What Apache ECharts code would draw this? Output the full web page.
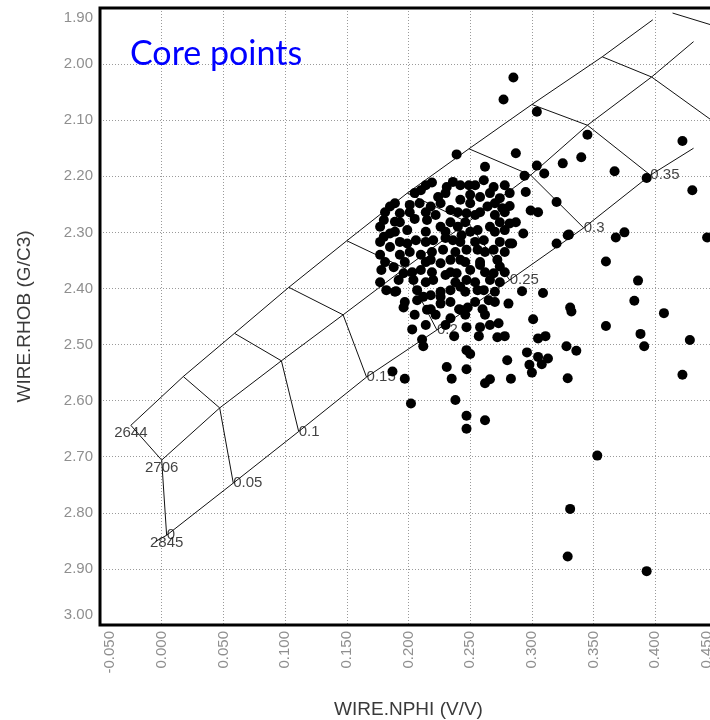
<!DOCTYPE html>
<html>
<head>
<meta charset="utf-8">
<script src="https://cdn.jsdelivr.net/npm/echarts@6/dist/echarts.min.js"></script>
<style>
html, body { margin: 0; padding: 0; background: #ffffff; }
#chart { width: 710px; height: 720px; }
</style>
</head>
<body>
<div id="chart"></div>
<script>
// Axis ranges (tick labels are generated from these)
const nphiTicks = [-0.05, 0, 0.05, 0.10, 0.15, 0.20, 0.25, 0.30, 0.35, 0.40, 0.45];
const rhobTicks = [1.90, 2.00, 2.10, 2.20, 2.30, 2.40, 2.50, 2.60, 2.70, 2.80, 2.90, 3.00];

// Lithology overlay: nodes at each porosity step [NPHI, RHOB]
const porosityLabels = ['0', '0.05', '0.1', '0.15', '0.2', '0.25', '0.3', '0.35', '0.4', '0.45'];
const sandstoneNodes = [[-0.025, 2.644], [0.0175, 2.557], [0.059, 2.480], [0.103, 2.398], [0.150, 2.315],
  [0.199, 2.230], [0.249, 2.151], [0.300, 2.072], [0.357, 1.987], [0.414, 1.909]];
const limestoneNodes = [[0.000, 2.706], [0.047, 2.613], [0.097, 2.529], [0.147, 2.447], [0.197, 2.364],
  [0.248, 2.282], [0.299, 2.198], [0.345, 2.109], [0.397, 2.023], [0.457, 1.938]];
const dolomiteNodes = [[0.004, 2.840], [0.058, 2.747], [0.111, 2.655], [0.166, 2.558], [0.223, 2.474],
  [0.282, 2.385], [0.342, 2.292], [0.396, 2.198], [0.450, 2.107], [0.510, 2.015]];
const sandstoneEnd = [0.398, 1.921];
const limestoneEnd = [0.431, 1.960];
const dolomiteStart = [-0.005, 2.851];
const dolomiteEnd = [0.431, 2.150];
const matrixLabels = ['2644', '2706', '2845'];

// Core points
const coreNphi = [
  0.285, 0.277, 0.304, 0.239, 0.287, 0.345, 0.340, 0.325, 0.262, 0.422,
  0.367, 0.393, 0.430, 0.304, 0.310, 0.294, 0.219, 0.295, 0.320, 0.299,
  0.305, 0.329, 0.368, 0.375, 0.442, 0.360, 0.386, 0.383, 0.407, 0.360,
  0.388, 0.391, 0.428, 0.422, 0.353, 0.331, 0.332, 0.309, 0.301, 0.305,
  0.311, 0.328, 0.336, 0.329, 0.305, 0.313, 0.308, 0.296, 0.298, 0.300,
  0.280, 0.283, 0.266, 0.262, 0.247, 0.231, 0.235, 0.238, 0.247, 0.247,
  0.262, 0.202, 0.187, 0.197, 0.203, 0.211, 0.212, 0.247, 0.250, 0.237,
  0.247, 0.258, 0.257, 0.272, 0.278, 0.273, 0.281, 0.292, 0.260, 0.248,
  0.241, 0.196, 0.218, 0.234, 0.178, 0.182, 0.190, 0.320, 0.330, 0.284,
  0.331, 0.329, 0.393,
  0.185, 0.180, 0.193, 0.201, 0.231, 0.236, 0.261, 0.269, 0.249, 0.224,
  0.242, 0.258, 0.264, 0.274, 0.276, 0.282, 0.218, 0.234, 0.247, 0.215,
  0.226, 0.240, 0.256, 0.266, 0.282, 0.293, 0.199, 0.185, 0.177, 0.206,
  0.180, 0.185, 0.199, 0.188, 0.196, 0.192, 0.204, 0.207, 0.212, 0.207,
  0.218, 0.220, 0.226, 0.234, 0.242, 0.247, 0.256, 0.261, 0.250, 0.239,
  0.234, 0.228, 0.220, 0.236, 0.247, 0.256, 0.261, 0.269, 0.272, 0.269,
  0.266, 0.274, 0.282, 0.226, 0.218, 0.210, 0.215, 0.242, 0.226,
  0.210, 0.222, 0.254, 0.270, 0.210, 0.242, 0.258, 0.230, 0.193, 0.177,
  0.278, 0.250, 0.230, 0.243, 0.274, 0.189, 0.205, 0.265,
  0.214, 0.242, 0.254, 0.278, 0.205, 0.230, 0.266, 0.282,
  0.189, 0.209, 0.226, 0.250, 0.270, 0.181, 0.201, 0.214, 0.240, 0.258, 0.278,
  0.193, 0.234, 0.246, 0.274, 0.287, 0.189, 0.214, 0.230, 0.250, 0.270,
  0.177, 0.193, 0.214, 0.242, 0.254, 0.274, 0.201, 0.219, 0.238, 0.262, 0.278,
  0.181, 0.197, 0.214, 0.246, 0.258, 0.203, 0.219, 0.234, 0.262, 0.278,
  0.177, 0.214, 0.238, 0.254, 0.189, 0.226, 0.246, 0.270,
  0.197, 0.234, 0.254, 0.270, 0.205, 0.222, 0.246, 0.262, 0.214, 0.230, 0.266
];
const coreRhob = [
  2.024, 2.063, 2.085, 2.161, 2.159, 2.126, 2.166, 2.177, 2.183, 2.137,
  2.191, 2.203, 2.225, 2.181, 2.195, 2.199, 2.211, 2.228, 2.246, 2.261,
  2.264, 2.305, 2.309, 2.300, 2.309, 2.352, 2.386, 2.422, 2.444, 2.467,
  2.481, 2.503, 2.492, 2.554, 2.698, 2.434, 2.441, 2.408, 2.455, 2.489,
  2.485, 2.503, 2.511, 2.560, 2.522, 2.525, 2.535, 2.514, 2.536, 2.550,
  2.528, 2.561, 2.562, 2.569, 2.544, 2.540, 2.561, 2.599, 2.627, 2.650,
  2.635, 2.605, 2.548, 2.561, 2.473, 2.491, 2.503, 2.510, 2.517, 2.485,
  2.469, 2.469, 2.485, 2.487, 2.485, 2.462, 2.427, 2.405, 2.437, 2.434,
  2.437, 2.434, 2.437, 2.453, 2.367, 2.403, 2.405, 2.320, 2.304, 2.320,
  2.793, 2.878, 2.904,
  2.254, 2.278, 2.266, 2.251, 2.219, 2.210, 2.207, 2.219, 2.216, 2.237,
  2.242, 2.237, 2.254, 2.239, 2.257, 2.253, 2.254, 2.260, 2.266, 2.278,
  2.290, 2.290, 2.296, 2.290, 2.284, 2.302, 2.296, 2.302, 2.290, 2.314,
  2.308, 2.326, 2.320, 2.362, 2.373, 2.385, 2.385, 2.403, 2.415, 2.421,
  2.412, 2.385, 2.415, 2.403, 2.397, 2.385, 2.403, 2.403, 2.367, 2.373,
  2.349, 2.331, 2.314, 2.314, 2.331, 2.331, 2.314, 2.331, 2.349, 2.373,
  2.385, 2.361, 2.320, 2.355, 2.349, 2.367, 2.438, 2.438, 2.427,
  2.225, 2.269, 2.269, 2.269, 2.340, 2.349, 2.358, 2.376, 2.340, 2.340,
  2.296, 2.233, 2.310, 2.305, 2.389, 2.281, 2.276, 2.421,
  2.216, 2.216, 2.216, 2.216, 2.230, 2.230, 2.230, 2.230,
  2.248, 2.248, 2.248, 2.248, 2.248, 2.264, 2.264, 2.264, 2.264, 2.264, 2.264,
  2.282, 2.282, 2.282, 2.282, 2.282, 2.299, 2.299, 2.299, 2.299, 2.299,
  2.317, 2.317, 2.317, 2.317, 2.317, 2.317, 2.335, 2.335, 2.335, 2.335, 2.335,
  2.353, 2.353, 2.353, 2.353, 2.353, 2.371, 2.371, 2.371, 2.371, 2.371,
  2.389, 2.389, 2.389, 2.389, 2.406, 2.406, 2.406, 2.406,
  2.424, 2.424, 2.424, 2.424, 2.447, 2.447, 2.447, 2.447, 2.465, 2.465, 2.465
];

const corePoints = coreNphi.map((v, i) => [v, coreRhob[i]]);

const labelFont = 'Liberation Sans, Arial, sans-serif';
const tickColor = '#8f8f8f';

function endRich() {
  return {
    lo: { padding: [20, 0, 0, 0], color: tickColor, fontSize: 15, fontFamily: labelFont },
    hi: { padding: [0, 0, 20, 0], color: tickColor, fontSize: 15, fontFamily: labelFont }
  };
}

const overlayLine = (data) => ({
  type: 'line', data: data, symbol: 'none', silent: true, z: 2,
  lineStyle: { color: '#111', width: 1 }, animation: false
});

const lithoLines = [
  overlayLine(sandstoneNodes.slice(0, 9).concat([sandstoneEnd])),
  overlayLine(limestoneNodes.slice(0, 9).concat([limestoneEnd])),
  overlayLine([dolomiteStart].concat(dolomiteNodes.slice(0, 8), [dolomiteEnd]))
];
const connectors = porosityLabels.map((p, i) =>
  overlayLine([sandstoneNodes[i], limestoneNodes[i], dolomiteNodes[i]]));

const chart = echarts.init(document.getElementById('chart'), null, { renderer: 'canvas' });
chart.setOption({
  animation: false,
  backgroundColor: '#ffffff',
  title: {
    text: 'Core points',
    left: 130, top: 37, padding: 0,
    textStyle: { color: '#0000ff', fontSize: 34, fontWeight: 'normal', fontFamily: 'Lato, sans-serif' }
  },
  grid: {
    left: 100, top: 8, width: 617, height: 617,
    containLabel: false, outerBoundsMode: 'none',
    show: true, borderColor: '#000', borderWidth: 3, backgroundColor: 'transparent', z: 5
  },
  xAxis: {
    type: 'value',
    min: nphiTicks[0], max: nphiTicks[nphiTicks.length - 1], interval: 0.05,
    name: 'WIRE.NPHI (V/V)', nameLocation: 'middle', nameGap: 75,
    nameTextStyle: { fontSize: 19, color: '#3a3a3a', fontFamily: labelFont },
    axisLine: { show: false }, axisTick: { show: false },
    axisLabel: {
      rotate: 90, margin: 6, color: tickColor, fontSize: 15, fontFamily: labelFont,
      showMinLabel: true, showMaxLabel: true,
      formatter: (v) => {
        const s = v.toFixed(3);
        if (Math.abs(v - nphiTicks[0]) < 1e-9) return '{lo|' + s + '}';
        if (Math.abs(v - nphiTicks[nphiTicks.length - 1]) < 1e-9) return '{hi|' + s + '}';
        return s;
      },
      rich: endRich()
    },
    splitLine: { show: true, showMinLine: false, showMaxLine: false, lineStyle: { color: '#9a9a9a', type: [1, 2], width: 1 } }
  },
  yAxis: {
    type: 'value', inverse: true,
    min: rhobTicks[0], max: rhobTicks[rhobTicks.length - 1], interval: 0.1,
    name: 'WIRE.RHOB (G/C3)', nameLocation: 'middle', nameGap: 66,
    nameTextStyle: { fontSize: 19, color: '#3a3a3a', fontFamily: labelFont },
    axisLine: { show: false }, axisTick: { show: false },
    axisLabel: {
      margin: 7, color: tickColor, fontSize: 15, fontFamily: labelFont,
      showMinLabel: true, showMaxLabel: true,
      formatter: (v) => {
        const s = v.toFixed(2);
        if (Math.abs(v - rhobTicks[0]) < 1e-9) return '{lo|' + s + '}';
        if (Math.abs(v - rhobTicks[rhobTicks.length - 1]) < 1e-9) return '{hi|' + s + '}';
        return s;
      },
      rich: endRich()
    },
    splitLine: { show: true, showMinLine: false, showMaxLine: false, lineStyle: { color: '#9a9a9a', type: [1, 2], width: 1 } }
  },
  series: lithoLines.concat(connectors).concat([
    {
      // porosity labels along the dolomite line
      type: 'scatter', z: 2, silent: true, symbolSize: 0,
      data: dolomiteNodes.map((p, i) => ({ value: p, name: porosityLabels[i] })),
      label: {
        show: true, position: 'right', distance: 0, formatter: '{b}',
        color: '#111', fontSize: 15, fontFamily: labelFont
      }
    },
    {
      // matrix density labels at zero porosity
      type: 'scatter', z: 2, silent: true, symbolSize: 0,
      data: [sandstoneNodes[0], limestoneNodes[0], dolomiteNodes[0]].map((p, i) => ({ value: p, name: matrixLabels[i] })),
      label: {
        show: true, position: 'bottom', distance: 0, formatter: '{b}',
        color: '#111', fontSize: 15, fontFamily: labelFont
      }
    },
    {
      type: 'scatter', z: 4, silent: true,
      symbol: 'circle', symbolSize: 10,
      itemStyle: { color: '#000', opacity: 1 },
      data: corePoints
    }
  ])
});
</script>
</body>
</html>
